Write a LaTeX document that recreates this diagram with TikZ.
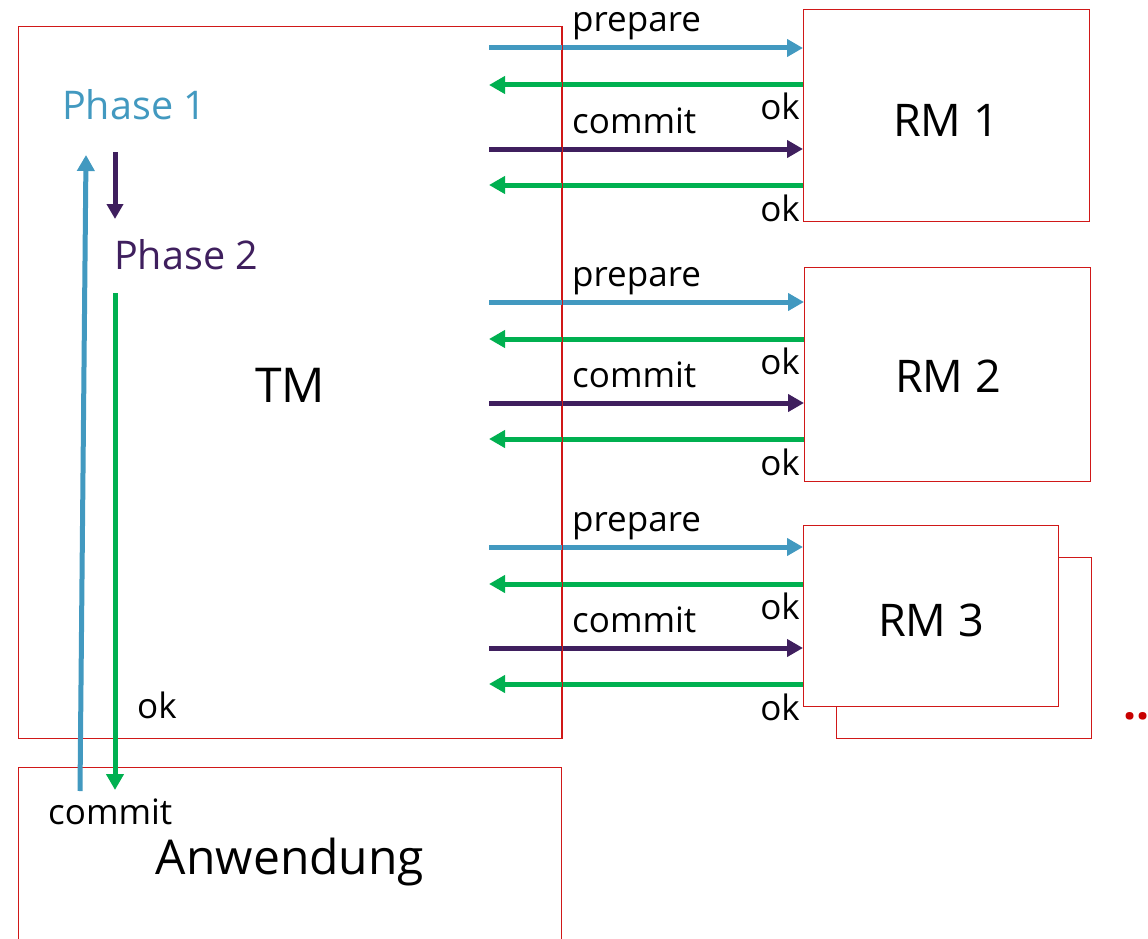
\documentclass[tikz,border=0pt]{standalone}
\usepackage{fontspec}
\setmainfont{Open Sans}
\usetikzlibrary{arrows.meta}
\definecolor{pblue}{HTML}{4299C0}
\definecolor{pgreen}{HTML}{00B050}
\definecolor{ppurple}{HTML}{3F1F5E}
\definecolor{pred}{HTML}{D01818}
\definecolor{pdots}{HTML}{C80000}
\begin{document}
\begin{tikzpicture}[x=1pt,y=-1pt,
  box/.style={draw=pred,line width=1.3pt,fill=white,inner sep=0pt},
  edge/.style={draw=pred,line width=1.3pt},
  arr/.style={line width=5pt,-{Triangle[length=16pt,width=17pt]}},
  lbl/.style={font=\fontsize{35}{42}\selectfont,inner sep=0pt},
  big/.style={font=\fontsize{48}{56}\selectfont,inner sep=0pt},
  rmtxt/.style={font=\fontsize{45}{54}\selectfont,inner sep=0pt},
  phase/.style={font=\fontsize{39.5}{46}\selectfont,inner sep=0pt,anchor=base west}]
\useasboundingbox (0,0) rectangle (1148,939);
% boxes
\node[box,minimum width=543pt,minimum height=712pt,anchor=north west] (tm) at (18,26) {};
\node[box,minimum width=543pt,minimum height=190pt,anchor=north west] (anw) at (18,767) {};
\node[box,minimum width=286pt,minimum height=212pt,anchor=north west] (rm1) at (803,9) {};
\node[box,minimum width=286pt,minimum height=214pt,anchor=north west] (rm2) at (804,267) {};
\node[box,minimum width=255pt,minimum height=181pt,anchor=north west] (rm3b) at (836,557) {};
\node[box,minimum width=255pt,minimum height=181pt,anchor=north west] (rm3) at (803,525) {};
% box texts
\node[big,anchor=base] (tmt) at (290,402) {TM};
\node[big,anchor=base] (anwt) at (290,874) {Anwendung};
\node[rmtxt,anchor=base] (rm1t) at (946,136) {RM 1};
\node[rmtxt,anchor=base] (rm2t) at (948,392) {RM 2};
\node[rmtxt,anchor=base] (rm3t) at (931,636) {RM 3};
% message arrows
\foreach \r/\o/\n in {rm1/0/1,rm2/254/2,rm3/499/3}{
  \coordinate (p\n) at (489,48+\o);
  \coordinate (o\n) at (489,85+\o);
  \coordinate (c\n) at (489,149+\o);
  \coordinate (k\n) at (489,185+\o);
  \draw[arr,pblue] (p\n) -- (p\n -| \r.west);
  \draw[arr,pgreen] (o\n -| \r.west) -- (o\n);
  \draw[arr,ppurple] (c\n) -- (c\n -| \r.west);
  \draw[arr,pgreen] (k\n -| \r.west) -- (k\n);
  \node[lbl,anchor=base west] (lp\n) at (572,32+\o) {prepare};
  \node[lbl,anchor=base east] (lo\n) at (800,120+\o) {ok};
  \node[lbl,anchor=base west] (lc\n) at (572,133+\o) {commit};
  \node[lbl,anchor=base east] (lk\n) at (800,221+\o) {ok};
}
% TM right edge lies over the arrows
\draw[edge] (tm.north east) -- (tm.south east);
% phases
\node[phase,text=pblue] (ph1) at (62,120) {Phase 1};
\node[phase,text=ppurple] (ph2) at (114,269) {Phase 2};
\coordinate (pd1) at (115,152);
\coordinate (pd2) at (115,219);
\draw[arr,ppurple,-{Triangle[length=15pt,width=16pt]}] (pd1) -- (pd2);
\coordinate (bu1) at (80,791);
\coordinate (bu2) at (86,155);
\draw[arr,pblue] (bu1) -- (bu2);
\coordinate (gd1) at (115,293);
\coordinate (gd2) at (115,790);
\draw[arr,pgreen] (gd1) -- (gd2);
\node[lbl,anchor=base west] (okb) at (137,718) {ok};
\node[lbl,anchor=base west] (cmb) at (48,824) {commit};
\node[font=\fontsize{46}{52}\selectfont\bfseries,inner sep=0pt,anchor=base west,text=pdots] (dots) at (1123,719) {...};
\end{tikzpicture}
\end{document}
